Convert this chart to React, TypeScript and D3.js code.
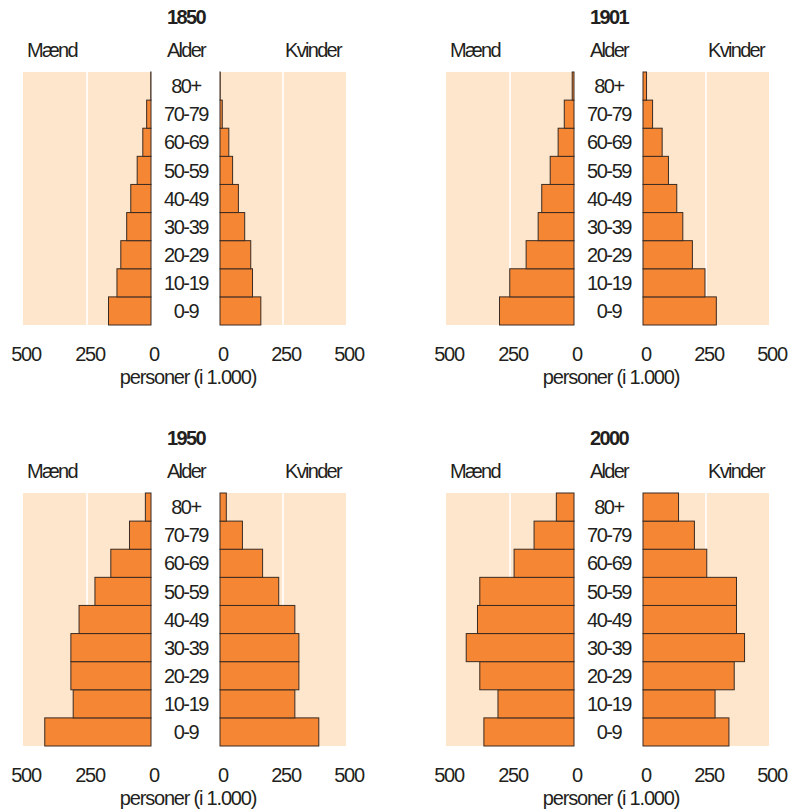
import { useEffect, useRef } from "react";
import * as d3 from "d3";

// age groups, bottom to top
const ageGroups = ["0-9", "10-19", "20-29", "30-39", "40-49", "50-59", "60-69", "70-79", "80+"];
const years = ["1850", "1901", "1950", "2000"];

// persons (in 1,000), same order as ageGroups
const men1850 = [166, 133, 118, 95, 79, 54, 32, 17, 1];
const women1850 = [162, 129, 122, 98, 73, 50, 35, 9, 1];
const men1901 = [291, 251, 187, 140, 126, 93, 62, 38, 7];
const women1901 = [291, 246, 196, 158, 134, 101, 76, 38, 14];
const men1950 = [415, 304, 313, 313, 281, 219, 157, 84, 22];
const women1950 = [392, 297, 313, 313, 297, 233, 169, 89, 25];
const men2000 = [352, 297, 368, 421, 377, 368, 234, 156, 69];
const women2000 = [341, 286, 362, 403, 371, 371, 253, 204, 141];

const axisTicks = [0, 250, 500];

const menByYear = [men1850, men1901, men1950, men2000];
const womenByYear = [women1850, women1901, women1950, women2000];

const FONT = "'Liberation Sans', Arial, sans-serif";
const TEXT_COLOR = "#231f20";
const BG_COLOR = "#fde6cc";
const BAR_COLOR = "#f58634";
const BAR_STROKE = "#3b2b22";

export default function App() {
  const svgRef = useRef<SVGSVGElement>(null);

  useEffect(() => {
    if (!svgRef.current) return;
    const svg = d3.select(svgRef.current);
    svg.selectAll("*").remove();

    const panelOffsets = [
      [0, 0],
      [423, 0],
      [0, 421],
      [423, 421],
    ];

    years.forEach((year, p) => {
      const [ox, oy] = panelOffsets[p];
      const g = svg.append("g").attr("transform", `translate(${ox},${oy})`);

      const xLeft = d3.scaleLinear().domain([0, 500]).range([151, 23]);
      const xRight = d3.scaleLinear().domain([0, 500]).range([220, 346]);
      const y = d3
        .scaleBand<string>()
        .domain([...ageGroups].reverse())
        .range([72, 325])
        .padding(0);

      // backgrounds
      g.append("rect")
        .attr("x", xLeft(500))
        .attr("y", 72)
        .attr("width", xLeft(0) - xLeft(500))
        .attr("height", 253)
        .attr("fill", BG_COLOR);
      g.append("rect")
        .attr("x", xRight(0))
        .attr("y", 72)
        .attr("width", xRight(500) - xRight(0))
        .attr("height", 253)
        .attr("fill", BG_COLOR);

      // white gridlines at 250
      [xLeft(250), xRight(250)].forEach((gx) => {
        g.append("line")
          .attr("x1", gx)
          .attr("x2", gx)
          .attr("y1", 72)
          .attr("y2", 325)
          .attr("stroke", "#ffffff")
          .attr("stroke-width", 1.6);
      });

      // bars
      const men = menByYear[p];
      const women = womenByYear[p];
      ageGroups.forEach((age, i) => {
        g.append("rect")
          .attr("x", xLeft(men[i]))
          .attr("y", y(age)!)
          .attr("width", xLeft(0) - xLeft(men[i]))
          .attr("height", y.bandwidth())
          .attr("fill", BAR_COLOR)
          .attr("stroke", BAR_STROKE)
          .attr("stroke-width", 1);
        g.append("rect")
          .attr("x", xRight(0))
          .attr("y", y(age)!)
          .attr("width", xRight(women[i]) - xRight(0))
          .attr("height", y.bandwidth())
          .attr("fill", BAR_COLOR)
          .attr("stroke", BAR_STROKE)
          .attr("stroke-width", 1);

        // age label
        g.append("text")
          .attr("x", 186)
          .attr("y", y(age)! + y.bandwidth() / 2)
          .attr("dy", "0.36em")
          .attr("text-anchor", "middle")
          .attr("font-family", FONT)
          .attr("font-size", 20)
          .attr("letter-spacing", -1.4)
          .attr("fill", TEXT_COLOR)
          .text(age);
      });

      // tick labels
      axisTicks.forEach((t) => {
        [xLeft(t), xRight(t)].forEach((tx) => {
          g.append("text")
            .attr("x", tx + 3)
            .attr("y", 361)
            .attr("text-anchor", "middle")
            .attr("font-family", FONT)
            .attr("font-size", 20)
            .attr("letter-spacing", -1.3)
            .attr("fill", TEXT_COLOR)
            .text(t);
        });
      });

      g.append("text")
        .attr("x", 188)
        .attr("y", 384)
        .attr("text-anchor", "middle")
        .attr("font-family", FONT)
        .attr("font-size", 20)
        .attr("letter-spacing", -1.2)
        .attr("fill", TEXT_COLOR)
        .text("personer (i 1.000)");

      // headers
      g.append("text")
        .attr("x", 186)
        .attr("y", 24)
        .attr("text-anchor", "middle")
        .attr("font-family", FONT)
        .attr("font-size", 20)
        .attr("font-weight", "bold")
        .attr("letter-spacing", -1.6)
        .attr("fill", TEXT_COLOR)
        .text(year);

      const headers: [string, number][] = [
        ["Mænd", 52],
        ["Alder", 186],
        ["Kvinder", 313],
      ];
      headers.forEach(([label, hx]) => {
        g.append("text")
          .attr("x", hx)
          .attr("y", 57)
          .attr("text-anchor", "middle")
          .attr("font-family", FONT)
          .attr("font-size", 20)
          .attr("letter-spacing", -1.7)
          .attr("fill", TEXT_COLOR)
          .text(label);
      });
    });
  }, []);

  return (
    <svg
      ref={svgRef}
      width={796}
      height={812}
      style={{ position: "absolute", left: 0, top: 0, background: "#fff" }}
    />
  );
}
